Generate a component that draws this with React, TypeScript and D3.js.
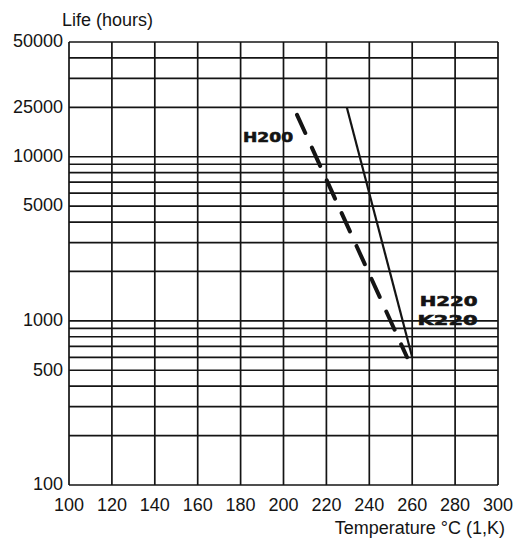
import React from 'react';
import * as d3 from 'd3';

// temperature axis (°C)
const xTicks = [100, 120, 140, 160, 180, 200, 220, 240, 260, 280, 300];
// horizontal rulings of the log paper
const yGrid = [
  100, 200, 300, 400, 500, 600, 700, 800, 900,
  1000, 2000, 3000, 4000, 5000, 6000, 7000, 8000, 9000,
  10000, 20000, 30000, 40000, 50000,
];
// printed y labels and the ruling they sit on
const yTickValues = [100, 500, 1000, 5000, 10000, 20000, 50000];
const yTickLabels = ['100', '500', '1000', '5000', '10000', '25000', '50000'];

// life curves
const solidLine = [
  { temp: 229.5, life: 20000 },
  { temp: 260, life: 600 },
];
const dashedLine = [
  { temp: 206.3, life: 18000 },
  { temp: 257.6, life: 600 },
];

// hand-written notes
const notes = [
  { text: 'H200', temp: 192.8, life: 13200, w: 50 },
  { text: 'H220', temp: 277, life: 1320, w: 58 },
  { text: 'K220', temp: 276.5, life: 1010, w: 60 },
];

const W = 514;
const H = 541;
const margin = { top: 42, right: 16, bottom: 56, left: 69 };

const App = () => {
  const x = d3.scaleLinear().domain([100, 300]).range([margin.left, W - margin.right]);
  const y = d3.scaleLog().domain([100, 50000]).range([H - margin.bottom, margin.top]);

  const line = d3
    .line<{ temp: number; life: number }>()
    .x((d) => x(d.temp))
    .y((d) => y(d.life));

  const font = '"Liberation Sans", Arial, Helvetica, sans-serif';
  const ink = '#141414';

  return (
    <svg
      width={W}
      height={H}
      style={{ position: 'absolute', left: 0, top: 0, background: '#fff' }}
    >
      {/* rulings */}
      <g stroke={ink} strokeWidth={1.7}>
        {xTicks.map((t) => (
          <line key={`v${t}`} x1={x(t)} x2={x(t)} y1={y(100)} y2={y(50000)} />
        ))}
        {yGrid.map((v) => (
          <line key={`h${v}`} x1={x(100)} x2={x(300)} y1={y(v)} y2={y(v)} />
        ))}
      </g>

      {/* y labels */}
      <g fontFamily={font} fontSize={18} fill={ink} textAnchor="end">
        {yTickValues.map((v, i) => (
          <text key={v} x={margin.left - 6} y={y(v) - 1} dy="0.35em">
            {yTickLabels[i]}
          </text>
        ))}
      </g>

      {/* x labels */}
      <g fontFamily={font} fontSize={18} fill={ink} textAnchor="middle">
        {xTicks.map((t) => (
          <text key={t} x={x(t)} y={511}>
            {t}
          </text>
        ))}
      </g>

      <text x={62} y={26} fontFamily={font} fontSize={18} fill={ink}>
        Life (hours)
      </text>
      <text x={505} y={534} fontFamily={font} fontSize={18} fill={ink} textAnchor="end">
        Temperature °C (1,K)
      </text>

      {/* curves */}
      <path d={line(solidLine)!} fill="none" stroke={ink} strokeWidth={2.2} />
      <path
        d={line(dashedLine)!}
        fill="none"
        stroke={ink}
        strokeWidth={4}
        strokeDasharray="20 16"
        strokeLinecap="round"
      />

      {/* notes */}
      <g
        fontFamily='"DejaVu Sans", sans-serif'
        fontWeight="bold"
        fontSize={14}
        fill={ink}
        stroke={ink}
        strokeWidth={0.6}
      >
        {notes.map((n) => (
          <text
            key={n.text}
            x={x(n.temp) - n.w / 2}
            y={y(n.life)}
            dy="0.36em"
            textLength={n.w}
            lengthAdjust="spacingAndGlyphs"
          >
            {n.text}
          </text>
        ))}
      </g>
    </svg>
  );
};

export default App;
